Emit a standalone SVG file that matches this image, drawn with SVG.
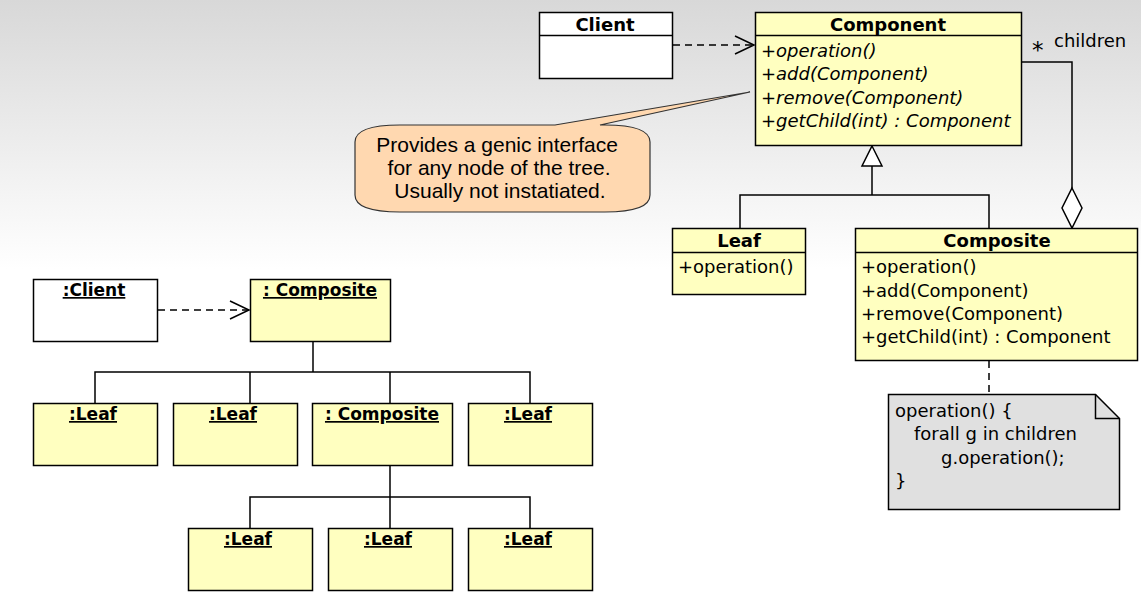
<svg xmlns="http://www.w3.org/2000/svg" width="1141" height="598" viewBox="0 0 1141 598">
<defs>
<linearGradient id="bg" x1="0" y1="0" x2="0" y2="1" gradientUnits="objectBoundingBox">
<stop offset="0" stop-color="#d8d8d8"/>
<stop offset="0.45" stop-color="#ffffff"/>
<stop offset="1" stop-color="#ffffff"/>
</linearGradient>
<marker id="open" markerWidth="22" markerHeight="20" refX="20" refY="10" orient="auto" markerUnits="userSpaceOnUse">
<path d="M1,1 L20,10 L1,19" fill="none" stroke="#000" stroke-width="1.5"/>
</marker>
</defs>
<style>
.box{stroke:#000;stroke-width:1.5}
.y{fill:#ffffc0}
.w{fill:#ffffff}
.t{font-family:"DejaVu Sans",sans-serif;font-size:18px;fill:#000}
.b{font-weight:bold;text-anchor:middle}
.i{font-style:italic}
.u{text-decoration:underline;font-weight:bold;text-anchor:middle;font-size:17px}
.star{font-size:23px}
.ln{fill:none;stroke:#000;stroke-width:1.5}
.d{stroke-dasharray:7,5}
</style>
<rect x="0" y="0" width="1141" height="598" fill="url(#bg)"/>

<g id="connectors">
<line class="ln d" x1="673" y1="45" x2="754" y2="45" marker-end="url(#open)"/>
<polyline class="ln" points="1021,62 1072,62 1072,188"/>
<polygon points="1072,188 1082,208 1072,228 1062,208" fill="#fff" stroke="#000" stroke-width="1.5"/>
<polygon points="872,146 882,166 862,166" fill="#fff" stroke="#000" stroke-width="1.5"/>
<polyline class="ln" points="872,166 872,195"/>
<polyline class="ln" points="740,228 740,195 989,195 989,228"/>
<line class="ln d" x1="989" y1="361" x2="989" y2="394"/>
<line class="ln d" x1="158" y1="310" x2="249" y2="310" marker-end="url(#open)"/>
<polyline class="ln" points="313,341 313,372"/>
<polyline class="ln" points="95,403 95,372 530,372 530,403"/>
<line class="ln" x1="250" y1="372" x2="250" y2="403"/>
<line class="ln" x1="390" y1="372" x2="390" y2="403"/>
<polyline class="ln" points="390,465 390,528"/>
<polyline class="ln" points="250,528 250,497 530,497 530,528"/>
</g>

<g id="Client">
<rect class="box w" x="539.5" y="12.5" width="133" height="66"/>
<line class="ln" x1="539.5" y1="35.5" x2="672.5" y2="35.5"/>
<text class="t b" x="605" y="31">Client</text>
</g>

<g id="Component">
<rect class="box y" x="755.5" y="12.5" width="266" height="133"/>
<line class="ln" x1="755.5" y1="35.5" x2="1021.5" y2="35.5"/>
<text class="t b" x="888" y="31">Component</text>
<text class="t i" x="761" y="57">+operation()</text>
<text class="t i" x="761" y="80">+add(Component)</text>
<text class="t i" x="761" y="104">+remove(Component)</text>
<text class="t i" x="761" y="127">+getChild(int) : Component</text>
</g>

<g id="labels">
<text class="t star" x="1032" y="58">*</text>
<text class="t" x="1054" y="47">children</text>
</g>

<g id="callout">
<path d="M400,125 L555,125 L750,92 L600,125 L605,125 Q650,125 650,142 L650,195 Q650,212 605,212 L400,212 Q355,212 355,195 L355,142 Q355,125 400,125 Z" fill="#ffd8b0" stroke="#333" stroke-width="1.2"/>
<text font-family="Liberation Sans, Arial, sans-serif" font-size="21" text-anchor="middle" fill="#000">
<tspan x="500" y="152">Provides a genic interface</tspan>
<tspan x="502" y="175">for any node of the tree.</tspan>
<tspan x="500" y="198">Usually not instatiated.</tspan>
</text>
</g>

<g id="Leaf">
<rect class="box y" x="672.5" y="228.5" width="133" height="66"/>
<line class="ln" x1="672.5" y1="252.5" x2="805.5" y2="252.5"/>
<text class="t b" x="739" y="247">Leaf</text>
<text class="t" x="678" y="273">+operation()</text>
</g>

<g id="Composite">
<rect class="box y" x="855.5" y="228.5" width="282" height="132"/>
<line class="ln" x1="855.5" y1="252.5" x2="1137.5" y2="252.5"/>
<text class="t b" x="997" y="247">Composite</text>
<text class="t" x="861" y="273">+operation()</text>
<text class="t" x="861" y="297">+add(Component)</text>
<text class="t" x="861" y="320">+remove(Component)</text>
<text class="t" x="861" y="343">+getChild(int) : Component</text>
</g>

<g id="note">
<path d="M888.5,394.5 L1095.5,394.5 L1119.5,418.5 L1119.5,509.5 L888.5,509.5 Z" fill="#e0e0e0" stroke="#000" stroke-width="1.5"/>
<polyline class="ln" points="1095.5,394.5 1095.5,418.5 1119.5,418.5"/>
<text class="t" x="895" y="417">operation() {</text>
<text class="t" x="914" y="440">forall g in children</text>
<text class="t" x="941" y="464">g.operation();</text>
<text class="t" x="895" y="487">}</text>
</g>

<g id="objClient">
<rect class="box w" x="33.5" y="279.5" width="124" height="62"/>
<text class="t u" x="94" y="296">:Client</text>
</g>
<g id="objComposite1">
<rect class="box y" x="250.5" y="279.5" width="140" height="62"/>
<text class="t u" x="320" y="296">: Composite</text>
</g>
<g id="objLeaf1">
<rect class="box y" x="33.5" y="403.5" width="124" height="62"/>
<text class="t u" x="93" y="420">:Leaf</text>
</g>
<g id="objLeaf2">
<rect class="box y" x="173.5" y="403.5" width="124" height="62"/>
<text class="t u" x="233" y="420">:Leaf</text>
</g>
<g id="objComposite2">
<rect class="box y" x="312.5" y="403.5" width="140" height="62"/>
<text class="t u" x="382" y="420">: Composite</text>
</g>
<g id="objLeaf3">
<rect class="box y" x="468.5" y="403.5" width="124" height="62"/>
<text class="t u" x="528" y="420">:Leaf</text>
</g>
<g id="objLeaf4">
<rect class="box y" x="188.5" y="528.5" width="124" height="62"/>
<text class="t u" x="248" y="545">:Leaf</text>
</g>
<g id="objLeaf5">
<rect class="box y" x="328.5" y="528.5" width="124" height="62"/>
<text class="t u" x="388" y="545">:Leaf</text>
</g>
<g id="objLeaf6">
<rect class="box y" x="468.5" y="528.5" width="124" height="62"/>
<text class="t u" x="528" y="545">:Leaf</text>
</g>
</svg>
